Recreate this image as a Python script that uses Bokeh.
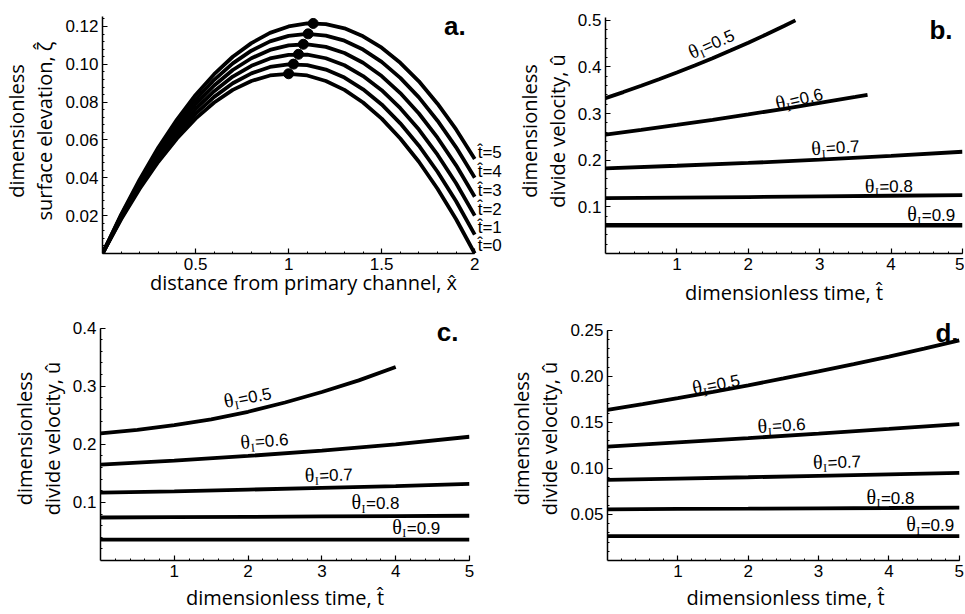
import math
from bokeh.plotting import figure
from bokeh.models import Range1d, FixedTicker, NumeralTickFormatter, Label, LabelSet, ColumnDataSource
from bokeh.layouts import row, column
from bokeh.core.properties import value
from bokeh.embed import file_html
from bokeh.resources import INLINE

# ---------------- data ----------------
# panel a: surface elevation profiles for t = 0..5
a_x = [0.0, 0.1, 0.2, 0.3, 0.4, 0.5, 0.6, 0.7, 0.8, 0.9, 1.0,
       1.1, 1.2, 1.3, 1.4, 1.5, 1.6, 1.7, 1.8, 1.9, 2.0]
a_t0 = [0, .0181, .0342, .0485, .0608, .0713, .0798, .0865, .0912, .0941, .0950,
        .0941, .0912, .0865, .0798, .0713, .0608, .0485, .0342, .0181, 0]
a_t1 = [0, .0186, .0352, .0500, .0628, .0738, .0828, .0900, .0952, .0986, .1000,
        .0996, .0972, .0930, .0868, .0788, .0688, .0570, .0432, .0276, .0100]
a_t2 = [0, .0191, .0362, .0515, .0648, .0763, .0858, .0935, .0992, .1031, .1050,
        .1051, .1032, .0995, .0938, .0863, .0768, .0655, .0522, .0371, .0200]
a_t3 = [0, .0196, .0372, .0530, .0668, .0788, .0888, .0970, .1032, .1076, .1100,
        .1106, .1092, .1060, .1008, .0938, .0848, .0740, .0612, .0466, .0300]
a_t4 = [0, .0201, .0382, .0545, .0688, .0813, .0918, .1005, .1072, .1121, .1150,
        .1161, .1152, .1125, .1078, .1013, .0928, .0825, .0702, .0561, .0400]
a_t5 = [0, .0206, .0392, .0560, .0708, .0838, .0948, .1040, .1112, .1166, .1200,
        .1216, .1212, .1190, .1148, .1088, .1008, .0910, .0792, .0656, .0500]
a_peak_x = [1.000, 1.026, 1.053, 1.079, 1.105, 1.132]
a_peak_y = [.0950, .1001, .1053, .1106, .1161, .1216]
a_t_labels = ["t\u0302=0", "t\u0302=1", "t\u0302=2", "t\u0302=3", "t\u0302=4", "t\u0302=5"]
a_t_label_y = [.0040, .0135, .0234, .0333, .0432, .0532]

theta_vals = ["0.5", "0.6", "0.7", "0.8", "0.9"]

# panel b
b_t_05 = [0, .25, .5, .75, 1, 1.25, 1.5, 1.75, 2, 2.25, 2.5, 2.66]
b_u_05 = [.333, .3459, .3593, .3733, .3878, .4029, .4185, .4348, .4516, .4692, .4874, .4995]
b_t_06 = [0, .5, 1, 1.5, 2, 2.5, 3, 3.5, 3.67]
b_u_06 = [.2545, .2648, .2754, .2865, .2981, .3101, .3226, .3356, .3401]
b_t = [0, 1, 2, 3, 4, 5]
b_u_07 = [.1825, .188, .194, .201, .209, .218]
b_u_08 = [.1185, .1197, .1210, .1224, .1237, .1250]
b_u_09 = [.0605, .0605, .0605, .0606, .0606, .0606]

# panel c
c_t_05 = [0, .5, 1, 1.5, 2, 2.5, 3, 3.5, 4]
c_u_05 = [.219, .225, .233, .243, .256, .272, .290, .310, .333]
c_t = [0, 1, 2, 3, 4, 5]
c_u_06 = [.165, .172, .180, .189, .200, .213]
c_u_07 = [.117, .119, .122, .125, .128, .132]
c_u_08 = [.074, .0746, .0752, .0758, .0764, .077]
c_u_09 = [.036, .036, .036, .036, .036, .036]

# panel d
d_t_05 = [0, .5, 1, 1.5, 2, 2.5, 3, 3.5, 4, 4.5, 5]
d_u_05 = [.1635, .1698, .1764, .1832, .1903, .1977, .2053, .2133, .2215, .2301, .2390]
d_t = [0, 1, 2, 3, 4, 5]
d_u_06 = [.1236, .1282, .1329, .1378, .1429, .1482]
d_u_07 = [.0876, .0890, .0904, .0919, .0935, .0951]
d_u_08 = [.0556, .0560, .0563, .0567, .0570, .0574]
d_u_09 = [.0264, .0264, .0264, .0264, .0264, .0264]

# label placement (center t, center u, angle deg)
b_lab = [(1.49, .447, 24), (2.717, .329, 13), (3.221, .2248, 4), (3.968, .142, 1), (4.562, .0802, 0)]
c_lab = [(1.996, .2788, 11), (2.222, .204, 5), (3.093, .1453, 2), (3.726, .0966, 0), (4.278, .0547, 0)]
d_lab = [(1.546, .1902, 11), (2.475, .1456, 4), (3.263, .1058, 2), (4.021, .0673, 0), (4.586, .0371, 0)]

# ---------------- style ----------------
TICK_FONT = "Liberation Sans"
TITLE_FONT = "Open Sans"
LW = 3.8


def make_fig(width, height, xr, yr, xb, yb, mb, xticks, xminor, yticks, yminor, xfmt, yfmt,
             xlabel, ylabel, xstand=4):
    p = figure(width=width, height=height, x_range=Range1d(*xr), y_range=Range1d(*yr),
               output_backend="svg", toolbar_location=None,
               min_border_left=mb[0], min_border_right=mb[1],
               min_border_top=mb[2], min_border_bottom=mb[3])
    p.xaxis.ticker = FixedTicker(ticks=xticks, minor_ticks=xminor)
    p.yaxis.ticker = FixedTicker(ticks=yticks, minor_ticks=yminor)
    p.xaxis.formatter = NumeralTickFormatter(format=xfmt)
    p.yaxis.formatter = NumeralTickFormatter(format=yfmt)
    p.xaxis.bounds = xb
    p.yaxis.bounds = yb
    p.xaxis.axis_label = xlabel
    p.yaxis.axis_label = ylabel
    for ax in p.axis:
        ax.axis_line_width = 1.5
        ax.axis_line_color = "black"
        ax.major_tick_in = 5
        ax.major_tick_out = 0
        ax.minor_tick_in = 2
        ax.minor_tick_out = 0
        ax.major_tick_line_width = 1.2
        ax.minor_tick_line_width = 1.0
        ax.major_tick_line_color = "black"
        ax.minor_tick_line_color = "black"
        ax.major_label_text_font = TICK_FONT
        ax.major_label_text_font_size = "17px"
        ax.major_label_text_color = "black"
        ax.major_label_standoff = 4
        ax.axis_label_text_font = TITLE_FONT
        ax.axis_label_text_font_size = "20px"
        ax.axis_label_text_font_style = "normal"
        ax.axis_label_text_color = "black"
        ax.axis_label_standoff = 4
        ax.axis_label_text_line_height = 1.05
    p.xaxis.axis_label_standoff = xstand
    p.xgrid.visible = False
    p.ygrid.visible = False
    p.outline_line_color = None
    p.background_fill_color = "white"
    p.border_fill_color = "white"
    return p


def theta_labels(p, labs):
    parts = {"th": dict(x=[], y=[], text=[], angle=[], xo=[], yo=[]),
             "sub": dict(x=[], y=[], text=[], angle=[], xo=[], yo=[]),
             "num": dict(x=[], y=[], text=[], angle=[], xo=[], yo=[])}
    W = 48.0
    base = -5.0
    local = {"th": (-W / 2, base), "sub": (-W / 2 + 10.0, base - 3.5), "num": (-W / 2 + 14.5, base)}
    texts = {"th": lambda v: "\u03b8", "sub": lambda v: "I", "num": lambda v: "=" + v}
    for (t, u, ang), v in zip(labs, theta_vals):
        a = math.radians(ang)
        for k in parts:
            lx, ly = local[k]
            parts[k]["x"].append(t)
            parts[k]["y"].append(u)
            parts[k]["text"].append(texts[k](v))
            parts[k]["angle"].append(a)
            parts[k]["xo"].append(lx * math.cos(a) - ly * math.sin(a))
            parts[k]["yo"].append(lx * math.sin(a) + ly * math.cos(a))
    fonts = {"th": ("Liberation Serif", "20px"), "sub": ("Liberation Serif", "12px"),
             "num": ("Liberation Sans", "17px")}
    for k, d in parts.items():
        src = ColumnDataSource(d)
        ls = LabelSet(x="x", y="y", text="text", angle="angle", x_offset="xo", y_offset="yo",
                      source=src, text_align="left", text_baseline="alphabetic",
                      text_font=value(fonts[k][0]), text_font_size=value(fonts[k][1]),
                      text_color="black")
        p.add_layout(ls)


def letter(p, x, y, txt):
    p.add_layout(Label(x=x, y=y, text=txt, text_align="right", text_baseline="alphabetic",
                       text_font="Liberation Sans", text_font_style="bold",
                       text_font_size="26px", text_color="black"))


YLAB_U = "dimensionless\ndivide velocity, u\u0302"
XLAB_T = "dimensionless time, t\u0302"

# ---------------- panel a ----------------
pa = make_fig(505, 308, (0, 2.16), (0, 0.1295), (0, 2), (0, 0.1253), (100, 1, 8, 54),
              [0.5, 1, 1.5, 2], [round(i * 0.1, 2) for i in range(1, 21)],
              [0.02, 0.04, 0.06, 0.08, 0.10, 0.12], [round(i * 0.004, 3) for i in range(1, 32)],
              "0.[0]", "0.00",
              "distance from primary channel, x\u0302",
              "dimensionless\nsurface elevation, \u03b6\u0302", xstand=-4)
for ys in [a_t0, a_t1, a_t2, a_t3, a_t4, a_t5]:
    pa.line(a_x, ys, line_width=LW, color="black", line_join="round")
pa.scatter(a_peak_x, a_peak_y, size=10, color="black")
pa.add_layout(LabelSet(x="x", y="y", text="text", x_offset=3,
                       source=ColumnDataSource(dict(x=[2] * 6, y=a_t_label_y, text=a_t_labels)),
                       text_align="left", text_baseline="middle",
                       text_font=value("Liberation Sans"), text_font_size=value("17px"),
                       text_color="black"))
letter(pa, 1.952, 0.1205, "a.")

# ---------------- panel b ----------------
pb = make_fig(459, 308, (0, 5), (0, 0.525), (0, 5), (0, 0.505), (100, 2, 2, 46),
              [1, 2, 3, 4, 5], [round(i * 0.2, 2) for i in range(1, 26)],
              [0.1, 0.2, 0.3, 0.4, 0.5], [round(i * 0.02, 2) for i in range(1, 26)],
              "0", "0.0", XLAB_T, YLAB_U, xstand=6)
pb.line(b_t_05, b_u_05, line_width=LW, color="black")
pb.line(b_t_06, b_u_06, line_width=LW, color="black")
pb.line(b_t, b_u_07, line_width=LW, color="black")
pb.line(b_t, b_u_08, line_width=LW, color="black")
pb.line(b_t, b_u_09, line_width=LW + 0.8, color="black")
theta_labels(pb, b_lab)
letter(pb, 4.86, 0.479, "b.")

# ---------------- panel c ----------------
pc = make_fig(505, 305, (0, 5), (0, 0.42), (0, 5), (0, 0.4), (100, 36, 8, 53),
              [1, 2, 3, 4, 5], [round(i * 0.2, 2) for i in range(1, 26)],
              [0.1, 0.2, 0.3, 0.4], [round(i * 0.02, 2) for i in range(1, 21)],
              "0", "0.0", XLAB_T, YLAB_U)
pc.line(c_t_05, c_u_05, line_width=LW, color="black")
pc.line(c_t, c_u_06, line_width=LW, color="black")
pc.line(c_t, c_u_07, line_width=LW, color="black")
pc.line(c_t, c_u_08, line_width=LW, color="black")
pc.line(c_t, c_u_09, line_width=LW, color="black")
theta_labels(pc, c_lab)
letter(pc, 4.85, 0.3936, "c.")

# ---------------- panel d ----------------
pd_ = make_fig(459, 305, (0, 5.06), (0, 0.265), (0, 5), (0, 0.25), (93, 1, 7, 50),
               [1, 2, 3, 4, 5], [round(i * 0.2, 2) for i in range(1, 26)],
               [0.05, 0.10, 0.15, 0.20, 0.25], [round(i * 0.01, 2) for i in range(1, 26)],
               "0", "0.00", XLAB_T, YLAB_U)
pd_.line(d_t_05, d_u_05, line_width=LW, color="black")
pd_.line(d_t, d_u_06, line_width=LW, color="black")
pd_.line(d_t, d_u_07, line_width=LW, color="black")
pd_.line(d_t, d_u_08, line_width=LW, color="black")
pd_.line(d_t, d_u_09, line_width=LW, color="black")
theta_labels(pd_, d_lab)
letter(pd_, 4.99, 0.247, "d.")

layout = column(row(pa, pb), row(pc, pd_))
open("out.html", "w").write(file_html(layout, INLINE))
